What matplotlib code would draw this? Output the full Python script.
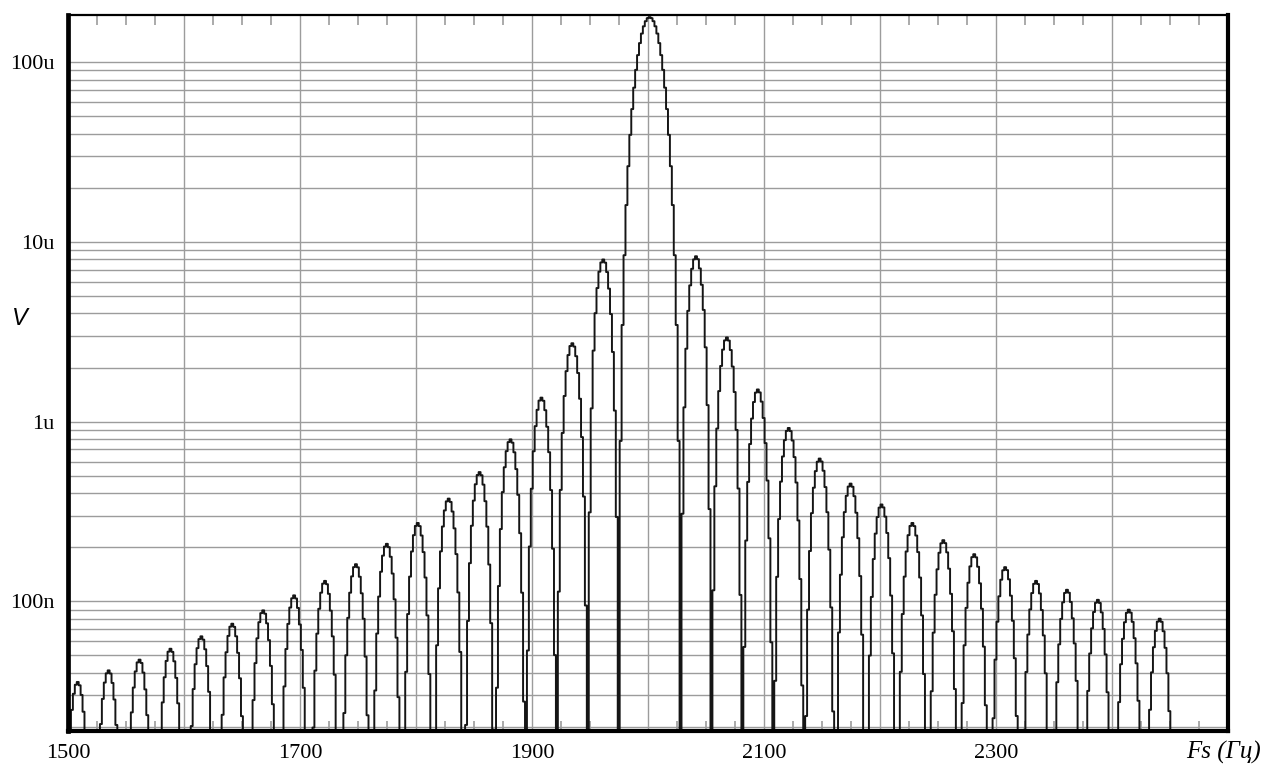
import numpy as np
import matplotlib
matplotlib.use('Agg')
import matplotlib.pyplot as plt
from matplotlib.ticker import MultipleLocator, LogLocator, FuncFormatter, NullFormatter

# lobe centres (Hz) and peak heights (V)
lobe_hz = [1508.3, 1535.0, 1561.6, 1588.3, 1614.9, 1641.6, 1668.2, 1694.9, 1721.5,
           1748.2, 1774.8, 1801.5, 1828.1, 1854.8, 1881.4, 1908.1, 1934.7, 1961.4,
           2001.4,
           2041.4, 2068.0, 2094.7, 2121.3, 2148.0, 2174.6, 2201.3, 2227.9, 2254.6,
           2281.2, 2307.9, 2334.5, 2361.2, 2387.8, 2414.5, 2441.1, 2467.8]
lobe_peak = [3.56e-8, 4.13e-8, 4.74e-8, 5.45e-8, 6.39e-8, 7.51e-8, 8.91e-8, 1.08e-7, 1.30e-7,
             1.61e-7, 2.09e-7, 2.73e-7, 3.73e-7, 5.24e-7, 7.97e-7, 1.36e-6, 2.73e-6, 7.98e-6,
             1.78e-4,
             8.32e-6, 2.94e-6, 1.51e-6, 9.22e-7, 6.23e-7, 4.52e-7, 3.46e-7, 2.73e-7, 2.19e-7,
             1.83e-7, 1.55e-7, 1.30e-7, 1.16e-7, 1.02e-7, 8.99e-8, 8.01e-8, 7.2e-8]
lobe_w = 26.65         # null-to-null width of a side lobe, Hz
pts_per_lobe = 16      # analyser resolution: 16 bins per lobe
f_start, f_stop = 1494.0, 2457.0

ytick_vals = [1e-7, 1e-6, 1e-5, 1e-4]
ytick_text = ['100n', '1u', '10u', '100u']

# frequency bins, aligned so that every null falls on a bin
df = lobe_w / pts_per_lobe
f0 = lobe_hz[lobe_peak.index(max(lobe_peak))]
k = np.arange(np.floor((f_start - f0) / df), np.ceil((f_stop - f0) / df) + 1)
f = f0 + k * df
v = np.zeros_like(f)
pk_main = max(lobe_peak)
for c, p in zip(lobe_hz, lobe_peak):
    u = (f - c) / lobe_w
    if p == pk_main:
        m = np.abs(u) < 1
        v[m] += p * np.sinc(u[m])**2
    else:
        m = np.abs(u) < 0.5
        v[m] += p * np.cos(np.pi*u[m])**2
v = np.maximum(v, 1e-12)

fig = plt.figure(figsize=(12.62, 7.69), dpi=100)
ax = fig.add_axes([68/1262, 1-731/769, (1228-68)/1262, (731-15)/769])

ax.plot(f, v, color='#151515', lw=1.4, drawstyle='steps-mid', zorder=3)

ax.set_yscale('log')
ax.set_xlim(1500, 2500)
ax.set_ylim(1.9e-8, 1.83e-4)

gc = '#9c9c9c'
ax.xaxis.set_major_locator(MultipleLocator(100))
ax.xaxis.set_minor_locator(MultipleLocator(25))
ax.xaxis.set_major_formatter(FuncFormatter(lambda x, pos: '%d' % x if (round(x) % 200 == 100 and x < 2400) else ''))
ax.yaxis.set_major_locator(matplotlib.ticker.FixedLocator(ytick_vals))
ax.yaxis.set_major_formatter(matplotlib.ticker.FixedFormatter(ytick_text))
ax.yaxis.set_minor_locator(LogLocator(base=10, subs=np.arange(2, 10)))
ax.yaxis.set_minor_formatter(NullFormatter())

ax.grid(True, which='both', axis='y', color=gc, lw=1.0)
ax.grid(True, which='major', axis='x', color=gc, lw=1.0)
ax.set_axisbelow(True)

ax.tick_params(axis='both', which='major', length=0)
ax.tick_params(axis='x', which='major', pad=9)
ax.tick_params(axis='y', which='major', pad=10)
ax.tick_params(axis='y', which='minor', length=0)
ax.tick_params(axis='x', which='minor', direction='in', top=True, bottom=True,
               length=7, width=1.2, color=gc)
for lab in ax.get_xticklabels() + ax.get_yticklabels():
    lab.set_family('Liberation Serif')
    lab.set_fontsize(16)

ax.spines['left'].set_linewidth(3.4)
ax.spines['right'].set_linewidth(3.0)
ax.spines['bottom'].set_linewidth(3.0)
ax.spines['top'].set_linewidth(1.6)
for s in ax.spines.values():
    s.set_color('black')
    s.set_zorder(5)

fig.text(20/1262, 1-318/769, 'V', style='italic', family='Liberation Sans',
         fontsize=17, ha='center', va='center')
fig.text(0.999, 1-752/769, 'Fs (Гц)', style='italic', family='Liberation Serif',
         fontsize=18, ha='right', va='center')

fig.savefig('out.png', dpi=100)
